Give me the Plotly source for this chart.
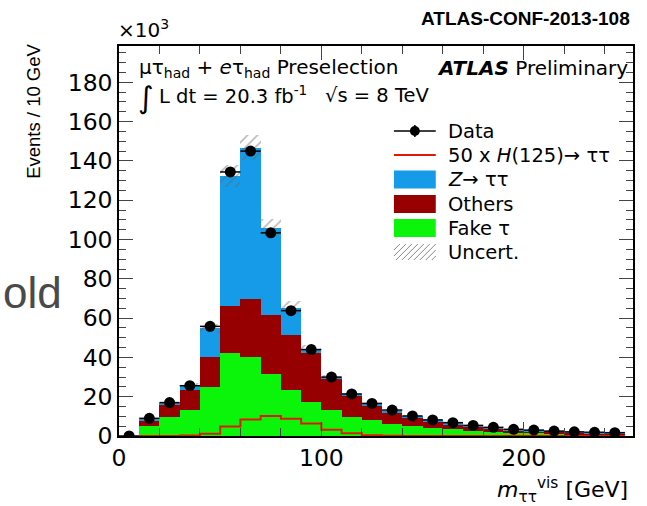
import plotly.graph_objects as go

# ---------------- data (values in units of 10^3 events / 10 GeV) ----------------
data_x = [5, 15, 25, 35, 45, 55, 65, 75, 85, 95, 105, 115, 125, 135, 145, 155, 165, 175, 185, 195, 205, 215, 225, 235, 245]
data_y = [0.0, 9.0, 17.0, 25.6, 55.8, 134.4, 145.0, 103.4, 63.8, 44.0, 30.0, 21.4, 16.6, 13.2, 10.2, 8.2, 6.8, 5.4, 4.4, 3.4, 3.0, 2.5, 2.1, 1.9, 1.7]

bin_centers = [15, 25, 35, 45, 55, 65, 75, 85, 95, 105, 115, 125, 135, 145, 155, 165, 175, 185, 195, 205, 215, 225, 235, 245]
bin_left_edges = [10, 20, 30, 40, 50, 60, 70, 80, 90, 100, 110, 120, 130, 140, 150, 160, 170, 180, 190, 200, 210, 220, 230, 240, 250]

fake_tau = [5.3, 9.5, 13.2, 24.7, 42.5, 40.0, 31.6, 23.4, 17.4, 13.2, 9.8, 8.1, 6.2, 5.1, 3.9, 3.4, 2.7, 2.2, 1.7, 1.3, 1.1, 0.9, 0.8, 0.6]
others = [2.5, 6.3, 10.2, 15.3, 23.8, 29.7, 29.9, 28.0, 24.6, 16.1, 11.0, 7.2, 5.7, 4.5, 3.6, 2.6, 2.3, 1.8, 1.3, 1.2, 1.0, 0.8, 0.6, 0.7]
z_tautau = [0.5, 0.8, 2.6, 14.8, 66.1, 77.1, 44.5, 14.0, 2.3, 0.5, 0.4, 0.5, 0.5, 0.3, 0.2, 0.2, 0.2, 0.2, 0.2, 0.2, 0.2, 0.2, 0.2, 0.1]
uncert = [0.4, 0.7, 1.0, 2.2, 5.5, 6.2, 4.3, 3.3, 2.0, 1.3, 0.9, 0.7, 0.5, 0.4, 0.3, 0.3, 0.2, 0.2, 0.2, 0.1, 0.1, 0.1, 0.1, 0.1]
higgs_x50 = [0.0, 0.0, 0.2, 1.2, 4.8, 8.4, 10.2, 8.8, 6.3, 3.2, 1.4, 0.4, 0.1, 0.0, 0.0, 0.0, 0.0, 0.0, 0.0, 0.0, 0.0, 0.0, 0.0, 0.0]

y_ticks = [0, 20, 40, 60, 80, 100, 120, 140, 160, 180]
x_ticks = [0, 100, 200]

# ---------------- styling ----------------
C_Z = "rgb(22,155,232)"
C_OTH = "rgb(150,0,0)"
C_FAKE = "rgb(10,245,10)"
C_H = "rgb(225,25,0)"
FONT = "Liberation Sans, Arial, sans-serif"
WIDE = "DejaVu Sans, Liberation Sans, sans-serif"

W, H = 647, 506
L, R, T, B = 119, 12, 46, 70
PW, PH = W - L - R, H - T - B


def px(x):
    return (x - L) / PW


def py(y):
    return (H - B - y) / PH


base_oth = fake_tau
base_z = [a + b for a, b in zip(fake_tau, others)]
total = [a + b + c for a, b, c in zip(fake_tau, others, z_tautau)]
unc_base = [t - u for t, u in zip(total, uncert)]
unc_h = [2 * u for u in uncert]

fig = go.Figure()
fig.add_bar(x=bin_centers, y=fake_tau, base=[0] * len(fake_tau), width=10,
            marker=dict(color=C_FAKE, line=dict(width=0)), showlegend=False)
fig.add_bar(x=bin_centers, y=others, base=base_oth, width=10,
            marker=dict(color=C_OTH, line=dict(width=0)), showlegend=False)
fig.add_bar(x=bin_centers, y=z_tautau, base=base_z, width=10,
            marker=dict(color=C_Z, line=dict(width=0)), showlegend=False)
fig.add_bar(x=bin_centers, y=unc_h, base=unc_base, width=10,
            marker=dict(color="rgba(0,0,0,0)", line=dict(width=0),
                        pattern=dict(shape="/", fgcolor="#666666", bgcolor="rgba(0,0,0,0)",
                                     size=7, solidity=0.22)),
            showlegend=False)
fig.add_scatter(x=bin_left_edges, y=higgs_x50 + [higgs_x50[-1]], mode="lines",
                line=dict(color=C_H, width=2, shape="hv"), showlegend=False)
fig.add_scatter(x=data_x, y=data_y, mode="markers",
                marker=dict(color="black", size=11),
                error_x=dict(type="constant", value=5, width=0, thickness=1.5, color="black"),
                showlegend=False)

# ---------------- manual legend ----------------
shapes = []
annots = []
lx0, lx1, tx = 395, 437, 447
rows = [131, 155, 179.5, 204, 228, 252]
labels = ["Data", "50 x <i>H</i>(125)→ ττ", "<i>Z</i>→ ττ", "Others", "Fake τ", "Uncert."]
for r, lab in zip(rows, labels):
    annots.append(dict(x=px(tx), y=py(r), xref="paper", yref="paper", text=lab,
                       showarrow=False, xanchor="left", yanchor="middle",
                       font=dict(family=WIDE, size=19.5, color="black")))
# Data symbol
shapes.append(dict(type="line", xref="paper", yref="paper", x0=px(lx0), x1=px(lx1),
                   y0=py(rows[0]), y1=py(rows[0]), line=dict(color="black", width=1.5)))
shapes.append(dict(type="line", xref="paper", yref="paper", x0=px(416), x1=px(416),
                   y0=py(rows[0] - 6), y1=py(rows[0] + 6), line=dict(color="black", width=1.5)))
shapes.append(dict(type="circle", xref="paper", yref="paper", x0=px(411), x1=px(421),
                   y0=py(rows[0] - 5), y1=py(rows[0] + 5), fillcolor="black", line=dict(width=0)))
# Higgs line
shapes.append(dict(type="line", xref="paper", yref="paper", x0=px(lx0), x1=px(lx1),
                   y0=py(rows[1]), y1=py(rows[1]), line=dict(color=C_H, width=2)))
# boxes
for r, c in zip(rows[2:5], [C_Z, C_OTH, C_FAKE]):
    shapes.append(dict(type="rect", xref="paper", yref="paper", x0=px(lx0), x1=px(lx1),
                       y0=py(r + 9), y1=py(r - 9), fillcolor=c, line=dict(width=0)))
# hatched box
hb_top, hb_bot = rows[5] - 8, rows[5] + 8
hh = hb_bot - hb_top
k = lx0 - hh
while k < lx1:
    xa, ya = k, hb_bot
    xb, yb = k + hh, hb_top
    if xa < lx0:
        ya = hb_bot - (lx0 - xa)
        xa = lx0
    if xb > lx1:
        yb = hb_top + (xb - lx1)
        xb = lx1
    if xb > xa:
        shapes.append(dict(type="line", xref="paper", yref="paper", x0=px(xa), x1=px(xb),
                           y0=py(ya), y1=py(yb), line=dict(color="#888888", width=1)))
    k += 6

# ---------------- texts ----------------
def txt(x, y, s, size, anchor="left", color="black", family=WIDE, **kw):
    annots.append(dict(x=px(x), y=py(y), xref="paper", yref="paper", text=s, showarrow=False,
                       xanchor=anchor, yanchor="middle",
                       font=dict(family=family, size=size, color=color), **kw))

txt(634, 18, "<b>ATLAS-CONF-2013-108</b>", 19, anchor="right", family=FONT)
txt(116, 29, "×10<sup>3</sup>", 20)
txt(137, 68, "μτ<sub>had</sub> + <i>e</i>τ<sub>had</sub> Preselection", 20)
txt(632, 68, "<b><i>ATLAS</i></b> Preliminary", 20, anchor="right")
txt(136, 98, "∫", 30)
txt(157, 95, "L dt = 20.3 fb<sup>-1</sup>", 19.5)
txt(324, 95, "√s = 8 TeV", 19.5)
txt(632, 490, "<i>m</i><sub>ττ</sub><sup>vis</sup> [GeV]", 22, anchor="right")
annots.append(dict(x=px(33), y=py(42), xref="paper", yref="paper", text="Events / 10 GeV",
                   showarrow=False, xanchor="center", yanchor="top", textangle=-90,
                   font=dict(family=FONT, size=18.5, color="black")))
txt(1, 292, "old", 44, anchor="left", color="#4a4a4a", family=FONT)

fig.update_layout(
    width=W, height=H, margin=dict(l=L, r=R, t=T, b=B),
    paper_bgcolor="white", plot_bgcolor="white",
    barmode="overlay", bargap=0,
    shapes=shapes, annotations=annots,
    font=dict(family=WIDE, color="black"),
)
fig.update_xaxes(range=[0, 254], tickvals=x_ticks, ticks="inside", ticklen=14, tickwidth=1,
                 minor=dict(dtick=20, tick0=0, ticklen=8, ticks="inside", tickwidth=1),
                 showline=True, linecolor="black", linewidth=1.5, mirror="allticks",
                 showgrid=False, zeroline=False, tickfont=dict(size=23.5, family=WIDE))
fig.update_yaxes(range=[0, 198.5], tickvals=y_ticks, ticks="inside", ticklen=14, tickwidth=1,
                 minor=dict(dtick=5, tick0=0, ticklen=7, ticks="inside", tickwidth=1),
                 showline=True, linecolor="black", linewidth=1.5, mirror="allticks",
                 showgrid=False, zeroline=False, tickfont=dict(size=23.5, family=WIDE))

fig.write_html("out.html")
